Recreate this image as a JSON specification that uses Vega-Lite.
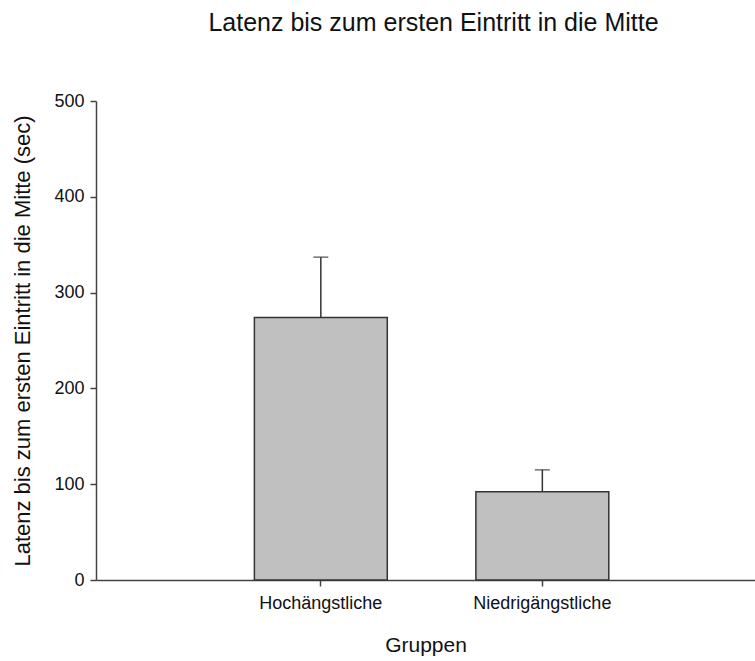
{
  "$schema": "https://vega.github.io/schema/vega-lite/v6.json",
  "width": 659,
  "height": 479,
  "autosize": {"type": "none"},
  "padding": {"left": 96, "top": 101, "right": 0, "bottom": 81},
  "background": "white",
  "title": {
    "text": "Latenz bis zum ersten Eintritt in die Mitte",
    "font": "Liberation Sans",
    "fontSize": 25,
    "fontWeight": "normal",
    "color": "#111",
    "anchor": "middle",
    "frame": "group",
    "dx": 8,
    "offset": 56
  },
  "config": {
    "view": {"stroke": null},
    "axis": {
      "labelFont": "Liberation Sans",
      "titleFont": "Liberation Sans",
      "labelColor": "#111",
      "titleColor": "#111",
      "domainColor": "#444",
      "tickColor": "#444",
      "domainWidth": 1.5,
      "tickWidth": 1.5,
      "grid": false
    }
  },
  "data": {
    "values": [
      {"Gruppe": "Hochängstliche", "Latenz": 274, "Oben": 337},
      {"Gruppe": "Niedrigängstliche", "Latenz": 92, "Oben": 115}
    ]
  },
  "encoding": {
    "x": {
      "field": "Gruppe",
      "type": "nominal",
      "sort": null,
      "scale": {"paddingInner": 0.4, "paddingOuter": 0.6875, "align": 0.52},
      "axis": {
        "title": "Gruppen",
        "titleFontSize": 21,
        "titleFontWeight": "normal",
        "titlePadding": 22,
        "labelFontSize": 18,
        "labelAngle": 0,
        "labelPadding": 8,
        "tickSize": 6
      }
    }
  },
  "layer": [
    {
      "mark": {"type": "bar", "fill": "#c0c0c0", "stroke": "#333", "strokeWidth": 1.5},
      "encoding": {
        "y": {
          "field": "Latenz",
          "type": "quantitative",
          "scale": {"domain": [0, 500], "nice": false},
          "axis": {
            "title": "Latenz bis zum ersten Eintritt in die Mitte (sec)",
            "titleFontSize": 22,
            "titleFontWeight": "normal",
            "titlePadding": 19,
            "labelFontSize": 18,
            "labelPadding": 6,
            "tickSize": 6,
            "values": [0, 100, 200, 300, 400, 500]
          }
        }
      }
    },
    {
      "mark": {"type": "rule", "color": "#333", "strokeWidth": 1.5},
      "encoding": {
        "y": {"field": "Latenz", "type": "quantitative"},
        "y2": {"field": "Oben"}
      }
    },
    {
      "mark": {"type": "tick", "color": "#333", "thickness": 1.5, "size": 15},
      "encoding": {
        "y": {"field": "Oben", "type": "quantitative"}
      }
    }
  ]
}
